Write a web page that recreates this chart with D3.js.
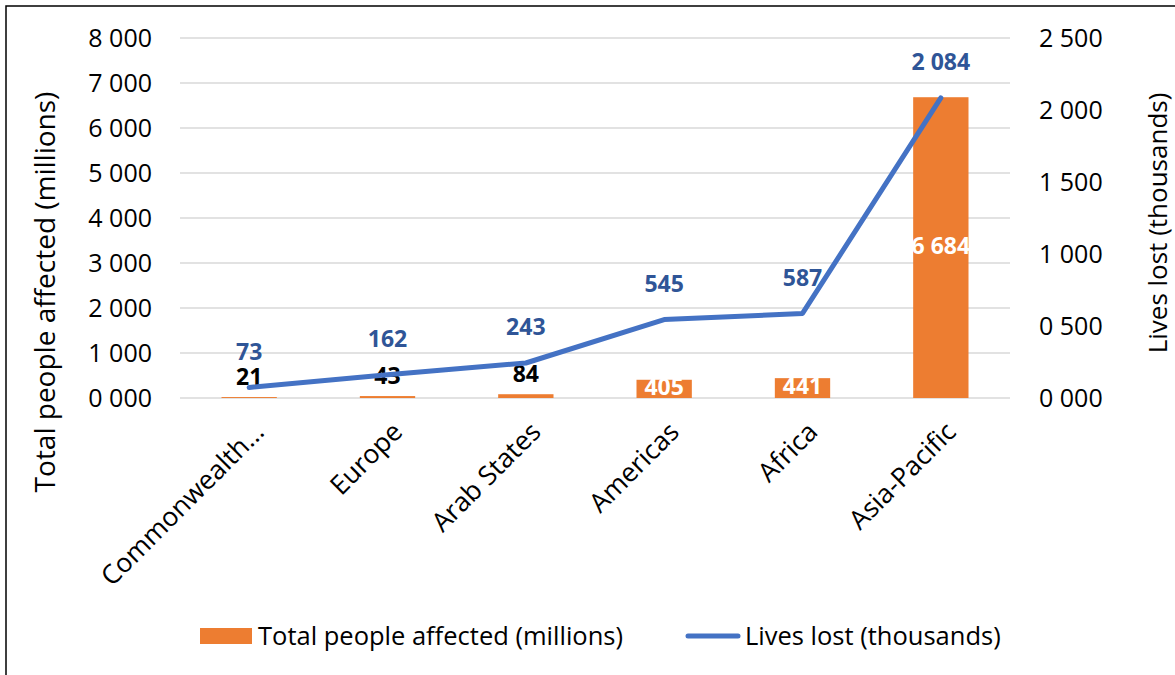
<!DOCTYPE html>
<meta charset="utf-8">
<script src="https://d3js.org/d3.v7.min.js"></script>
<style>
  body { margin: 0; background: #fff; }
  text { font-family: "Open Sans", sans-serif; }
</style>
<body>
<div id="chart"></div>
<script>

// data
const regions = ["Commonwealth...", "Europe", "Arab States", "Americas", "Africa", "Asia-Pacific"];
const peopleAffected = [21, 43, 84, 405, 441, 6684];   // millions (bars, left axis)
const livesLost = [73, 162, 243, 545, 587, 2084];      // thousands (line, right axis)
const leftTicks = [0, 1000, 2000, 3000, 4000, 5000, 6000, 7000, 8000];
const rightTicks = [0, 500, 1000, 1500, 2000, 2500];

const W = 1175, H = 675;
const plot = {left: 180, right: 1010, top: 38, bottom: 398};

const svg = d3.select("#chart").append("svg")
  .attr("width", W)
  .attr("height", H);

// outer frame (runs off the right and bottom edges)
svg.append("rect")
  .attr("x", 6).attr("y", 6)
  .attr("width", W + 20).attr("height", H + 20)
  .attr("fill", "none")
  .attr("stroke", "#000")
  .attr("stroke-width", 1.5);

// number format like "0 500", "8 000"
const fmtTick = d => {
  const s = String(d).padStart(4, "0");
  return s.slice(0, -3) + " " + s.slice(-3);
};
const fmtLabel = d => d >= 1000 ? fmtTick(d) : String(d);

// scales
const x = d3.scaleBand()
  .domain(regions)
  .range([plot.left, plot.right])
  .paddingInner(0.6)
  .paddingOuter(0.3);
const yL = d3.scaleLinear().domain([0, 8000]).range([plot.bottom, plot.top]);
const yR = d3.scaleLinear().domain([0, 2500]).range([plot.bottom, plot.top]);
const cx = d => x(d) + x.bandwidth() / 2;

// gridlines
svg.append("g")
  .selectAll("line")
  .data(leftTicks)
  .join("line")
    .attr("x1", plot.left).attr("x2", plot.right)
    .attr("y1", d => yL(d)).attr("y2", d => yL(d))
    .attr("stroke", "#d9d9d9")
    .attr("stroke-width", 1.5);

// left axis
const gL = svg.append("g")
  .attr("transform", `translate(${plot.left},0)`)
  .call(d3.axisLeft(yL).tickValues(leftTicks).tickFormat(fmtTick).tickSize(0).tickPadding(28));
gL.select(".domain").remove();
gL.selectAll("text").style("font-size", "25px").attr("fill", "#000").style("font-family", "Open Sans");

// right axis
const gR = svg.append("g")
  .attr("transform", `translate(${plot.right},0)`)
  .call(d3.axisRight(yR).tickValues(rightTicks).tickFormat(fmtTick).tickSize(0).tickPadding(29));
gR.select(".domain").remove();
gR.selectAll("text").style("font-size", "25px").attr("fill", "#000").style("font-family", "Open Sans");

// axis titles
svg.append("text")
  .attr("transform", "translate(45,292) rotate(-90)")
  .attr("text-anchor", "middle")
  .attr("dy", "0.35em")
  .style("font-size", "28px")
  .text("Total people affected (millions)");

svg.append("text")
  .attr("transform", "translate(1158,223) rotate(-90)")
  .attr("text-anchor", "middle")
  .attr("dy", "0.35em")
  .style("font-size", "26px")
  .text("Lives lost (thousands)");

// category labels, rotated
svg.append("g")
  .selectAll("text")
  .data(regions)
  .join("text")
    .attr("transform", d => `translate(${cx(d) + 10},427) rotate(-45)`)
    .attr("text-anchor", "end")
    .attr("dy", "0.35em")
    .style("font-size", "26.5px")
    .text(d => d);

// bars
svg.append("g")
  .selectAll("rect")
  .data(regions)
  .join("rect")
    .attr("x", d => x(d))
    .attr("width", x.bandwidth())
    .attr("y", (d, i) => yL(peopleAffected[i]))
    .attr("height", (d, i) => yL(0) - yL(peopleAffected[i]))
    .attr("fill", "#ed7d31");

// bar labels: small bars get a black label above, big ones white in the middle
svg.append("g")
  .selectAll("text")
  .data(regions)
  .join("text")
    .attr("x", d => cx(d))
    .attr("y", (d, i) => {
      const v = peopleAffected[i];
      return v < 200 ? yL(v) - 20 : (yL(v) + yL(0)) / 2 - 2;
    })
    .attr("text-anchor", "middle")
    .attr("dy", "0.35em")
    .style("font-size", "23px")
    .style("font-weight", "bold")
    .attr("fill", (d, i) => peopleAffected[i] < 200 ? "#000" : "#fff")
    .text((d, i) => fmtLabel(peopleAffected[i]));

// line
const line = d3.line()
  .x(d => cx(d))
  .y((d, i) => yR(livesLost[i]));

svg.append("path")
  .datum(regions)
  .attr("d", line)
  .attr("fill", "none")
  .attr("stroke", "#4472c4")
  .attr("stroke-width", 5)
  .attr("stroke-linejoin", "round")
  .attr("stroke-linecap", "round");

// line labels
svg.append("g")
  .selectAll("text")
  .data(regions)
  .join("text")
    .attr("x", d => cx(d))
    .attr("y", (d, i) => yR(livesLost[i]) - 36)
    .attr("text-anchor", "middle")
    .attr("dy", "0.35em")
    .style("font-size", "23px")
    .style("font-weight", "bold")
    .attr("fill", "#2f5597")
    .text((d, i) => fmtLabel(livesLost[i]));

// legend
const legend = svg.append("g");
legend.append("rect")
  .attr("x", 200).attr("y", 628)
  .attr("width", 52).attr("height", 16)
  .attr("fill", "#ed7d31");
legend.append("text")
  .attr("x", 258).attr("y", 636)
  .attr("dy", "0.35em")
  .style("font-size", "25.5px")
  .text("Total people affected (millions)");
legend.append("line")
  .attr("x1", 688).attr("x2", 738)
  .attr("y1", 636).attr("y2", 636)
  .attr("stroke", "#4472c4")
  .attr("stroke-width", 5)
  .attr("stroke-linecap", "round");
legend.append("text")
  .attr("x", 745).attr("y", 636)
  .attr("dy", "0.35em")
  .style("font-size", "25.5px")
  .text("Lives lost (thousands)");

</script>
</body>
